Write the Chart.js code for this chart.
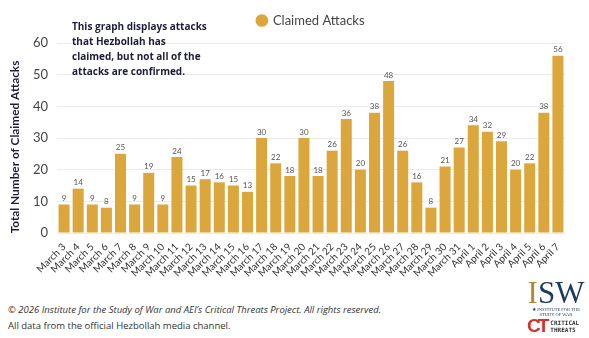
<!DOCTYPE html>
<html>
<head>
<meta charset="utf-8">
<script src="https://cdn.jsdelivr.net/npm/chart.js@4/dist/chart.umd.min.js"></script>
<style>
  html, body { margin: 0; padding: 0; background: #fff; }
  body { width: 589px; height: 338px; position: relative; overflow: hidden; font-family: "Open Sans", sans-serif; }
  #wrap { position: absolute; left: 0; top: 0; width: 589px; height: 292px; }
  .note { position: absolute; left: 72px; top: 19px; font-size: 10px; font-weight: 700; color: #1d1d3b; line-height: 15px; }
  .footer { position: absolute; left: 8px; top: 302px; font-size: 9.5px; color: #333; line-height: 16px; }
  .footer .copy { font-style: italic; }
  .isw { position: absolute; left: 526px; top: 278px; width: 60px; text-align: center; }
  .isw .big { font-family: "Liberation Serif", serif; font-size: 31px; color: #1e3a5c; line-height: 30px; }
  .isw .big span { color: #b08a3a; }
  .isw .small { font-family: "Liberation Serif", serif; font-size: 4.5px; color: #1e3a5c; line-height: 4.5px; }
  .ct { position: absolute; left: 527px; top: 315px; display: flex; align-items: center; }
  .ct .mark { font-family: "Liberation Sans", sans-serif; font-weight: 700; font-size: 19px; color: #d8302b; letter-spacing: -3px; }
  .ct .words { font-family: "DejaVu Sans Mono", monospace; font-weight: 700; font-size: 6px; color: #333; line-height: 7px; margin-left: 4px; }
</style>
</head>
<body>
<div id="wrap"><canvas id="attacksChart"></canvas></div>
<div class="note">This graph displays attacks<br>that Hezbollah has<br>claimed, but not all of the<br>attacks are confirmed.</div>
<div class="footer">
  <div class="copy">© 2026 Institute for the Study of War and AEI’s Critical Threats Project. All rights reserved.</div>
  <div>All data from the official Hezbollah media channel.</div>
</div>
<div class="isw"><div class="big"><span>I</span>SW</div><div class="small">★ INSTITUTE FOR THE<br>STUDY OF WAR</div></div>
<div class="ct"><span class="mark">CT</span><span class="words">CRITICAL<br>THREATS</span></div>
<script>
const dates = [
  'March 3', 'March 4', 'March 5', 'March 6', 'March 7', 'March 8', 'March 9', 'March 10',
  'March 11', 'March 12', 'March 13', 'March 14', 'March 15', 'March 16', 'March 17', 'March 18',
  'March 19', 'March 20', 'March 21', 'March 22', 'March 23', 'March 24', 'March 25', 'March 26',
  'March 27', 'March 28', 'March 29', 'March 30', 'March 31',
  'April 1', 'April 2', 'April 3', 'April 4', 'April 5', 'April 6', 'April 7'
];
const claimedAttacks = [
  9, 14, 9, 8, 25, 9, 19, 9, 24, 15, 17, 16, 15, 13, 30, 22, 18, 30, 18, 26, 36, 20, 38, 48,
  26, 16, 8, 21, 27, 34, 32, 29, 20, 22, 38, 56
];
const yTicks = [0, 10, 20, 30, 40, 50, 60];
const yTitle = 'Total Number of Claimed Attacks';

const barColor = '#DBA63B';

// draws the value above each bar
const barValueLabels = {
  id: 'barValueLabels',
  afterDatasetsDraw(chart) {
    const { ctx } = chart;
    const meta = chart.getDatasetMeta(0);
    ctx.save();
    ctx.font = '8px Lato';
    ctx.fillStyle = '#555';
    ctx.textAlign = 'center';
    ctx.textBaseline = 'bottom';
    meta.data.forEach((bar, i) => {
      ctx.fillText(claimedAttacks[i], bar.x, bar.y - 2);
    });
    ctx.restore();
  }
};

// y axis title, sits a little lower than the plot centre in the original
const yAxisTitle = {
  id: 'yAxisTitle',
  afterDraw(chart) {
    const { ctx, chartArea } = chart;
    ctx.save();
    ctx.translate(15, (chartArea.top + chartArea.bottom) / 2 + 9);
    ctx.rotate(-Math.PI / 2);
    ctx.font = 'bold 11.8px Lato';
    ctx.fillStyle = '#1d1d3b';
    ctx.textAlign = 'center';
    ctx.textBaseline = 'middle';
    ctx.fillText(yTitle, 0, 0);
    ctx.restore();
  }
};

// push the plot down a bit under the legend
const legendSpacing = {
  id: 'legendSpacing',
  beforeInit(chart) {
    const origFit = chart.legend.fit;
    chart.legend.fit = function () {
      origFit.bind(chart.legend)();
      this.height += 6;
    };
  }
};

const ctx = document.getElementById('attacksChart').getContext('2d');
new Chart(ctx, {
  type: 'bar',
  data: {
    labels: dates,
    datasets: [{
      label: 'Claimed Attacks',
      data: claimedAttacks,
      backgroundColor: barColor,
      borderWidth: 0,
      categoryPercentage: 1,
      barPercentage: 0.78
    }]
  },
  options: {
    responsive: true,
    maintainAspectRatio: false,
    animation: false,
    layout: { padding: { left: 0, right: 24, top: 9, bottom: 0 } },
    plugins: {
      legend: {
        fullSize: false,
        labels: {
          usePointStyle: true,
          pointStyle: 'circle',
          boxWidth: 9,
          boxHeight: 9,
          padding: 5,
          color: '#444',
          font: { family: 'Lato', size: 13 }
        }
      },
      tooltip: { enabled: false }
    },
    scales: {
      x: {
        grid: { display: false },
        border: { display: false },
        ticks: {
          autoSkip: false,
          maxRotation: 45,
          minRotation: 45,
          padding: 0,
          color: '#333',
          font: { family: 'Lato', size: 10 }
        },
        afterFit(scale) { scale.height = 59; }
      },
      y: {
        min: 0,
        max: 60,
        afterBuildTicks(scale) { scale.ticks = yTicks.map(v => ({ value: v })); },
        grid: { color: '#ebebeb', drawTicks: false },
        border: { display: false },
        ticks: {
          padding: 9,
          color: '#444',
          font: { family: 'Lato', size: 13 }
        },
        afterFit(scale) { scale.width = 57; }
      }
    }
  },
  plugins: [barValueLabels, yAxisTitle, legendSpacing]
});
</script>
</body>
</html>
